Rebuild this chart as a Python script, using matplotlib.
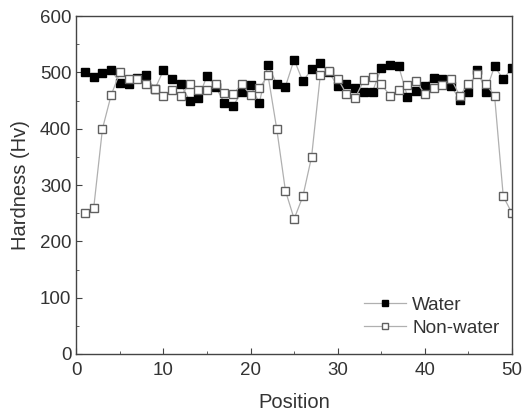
import numpy as np
import matplotlib.pyplot as plt

plt.rcParams["font.family"] = ["Liberation Sans", "DejaVu Sans"]

# %% data
position = list(range(1, 51))
water = [500, 492, 499, 504, 482, 479, 490, 495, 470, 504,
         489, 479, 450, 454, 494, 474, 446, 441, 465, 477,
         446, 514, 479, 475, 523, 484, 506, 516, 500, 476,
         479, 473, 466, 466, 508, 514, 511, 457, 467, 476,
         491, 488, 476, 452, 466, 505, 466, 511, 488, 508]
non_water = [250, 260, 400, 460, 500, 489, 489, 479, 471, 459,
             469, 459, 479, 469, 469, 479, 463, 462, 479, 460,
             472, 495, 400, 290, 240, 280, 350, 495, 502, 489,
             462, 455, 486, 492, 479, 459, 469, 477, 484, 462,
             472, 477, 489, 459, 479, 497, 479, 459, 280, 250]

# %% plot
fig = plt.figure(figsize=(5.3, 4.15), dpi=100)
ax = fig.add_axes([0.144, 0.147, 0.822, 0.814])

ax.plot(position, water, color="#b0b0b0", lw=0.9, marker="s", ms=6,
        mfc="black", mec="black", label="Water")
ax.plot(position, non_water, color="#b0b0b0", lw=0.9, marker="s", ms=6,
        mfc="white", mec="#606060", mew=1.0, label="Non-water")

ax.set_xlim(0, 50)
ax.set_ylim(0, 600)
ax.set_xticks(np.arange(0, 51, 10))
ax.set_xticks(np.arange(0, 51, 5), minor=True)
ax.set_yticks(np.arange(0, 601, 100))
ax.set_yticks(np.arange(0, 601, 50), minor=True)
ax.tick_params(which="both", direction="in", colors="#444444",
               labelcolor="#333333", labelsize=13.5)
ax.tick_params(axis="x", which="major", pad=6)
ax.tick_params(which="major", length=4)
ax.tick_params(which="minor", length=2.5)
for s in ax.spines.values():
    s.set_color("#444444")
    s.set_linewidth(1.0)

ax.set_xlabel("Position", fontsize=14.5, color="#333333", labelpad=10)
ax.set_ylabel("Hardness (Hv)", fontsize=14.5, color="#333333", labelpad=7)

ax.legend(loc="upper left", bbox_to_anchor=(0.66, 0.17), frameon=False,
          fontsize=13.7, handlelength=2.2, handletextpad=0.35,
          borderaxespad=0, borderpad=0, labelspacing=0.3, markerscale=0.75,
          labelcolor="#333333")

plt.savefig("out.png", dpi=100)
